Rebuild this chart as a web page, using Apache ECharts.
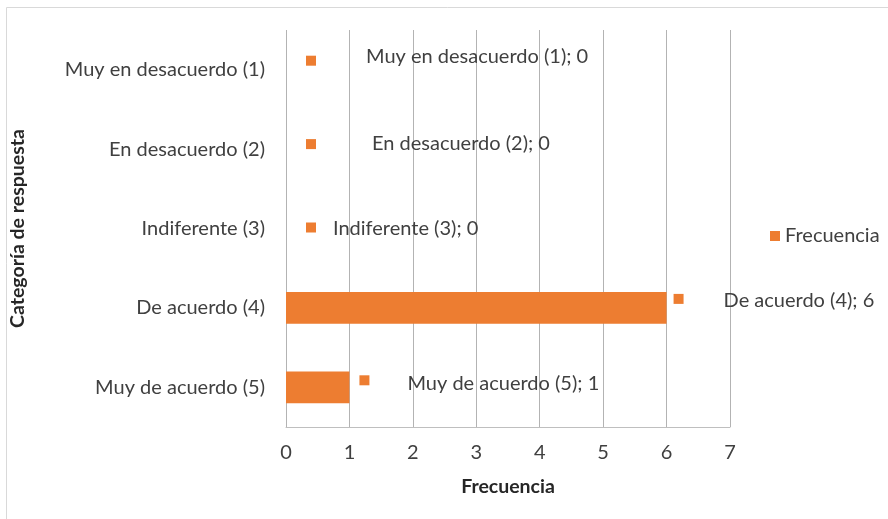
<!DOCTYPE html>
<html>
<head>
<meta charset="utf-8">
<script src="https://cdn.jsdelivr.net/npm/echarts@6/dist/echarts.min.js"></script>
<style>
  html, body { margin: 0; padding: 0; background: #ffffff; }
  #chart { width: 888px; height: 519px; }
</style>
</head>
<body>
<div id="chart"></div>
<script>
// Response categories, top to bottom
const categories = [
  'Muy en desacuerdo (1)',
  'En desacuerdo (2)',
  'Indiferente (3)',
  'De acuerdo (4)',
  'Muy de acuerdo (5)'
];
// Frequency per category
const frequencies = [0, 0, 0, 6, 1];
// Value axis ticks
const xTicks = [0, 1, 2, 3, 4, 5, 6, 7];

// Hand-placed data label offsets (text and legend key), in pixels
const textOffsets = [[75, -13], [81, -6], [42, 0], [52, -7], [53, -4]];
const keyOffsets = [[15, -9], [15, -5], [15, -1], [2, -9], [5, -7]];

const ORANGE = '#ed7d31';
const FONT = 'Lato';
const FS = 20;

const chart = echarts.init(document.getElementById('chart'));

const textData = frequencies.map((v, i) => ({
  value: v,
  label: { offset: textOffsets[i] }
}));
const keyData = frequencies.map((v, i) => ({
  value: v,
  label: { offset: keyOffsets[i] }
}));

chart.setOption({
  animation: false,
  textStyle: { fontFamily: FONT },
  graphic: [
    { type: 'line', shape: { x1: 6.5, y1: 7.5, x2: 888, y2: 7.5 }, style: { stroke: '#d9d9d9', lineWidth: 1 } },
    { type: 'line', shape: { x1: 6.5, y1: 7.5, x2: 6.5, y2: 519 }, style: { stroke: '#d9d9d9', lineWidth: 1 } }
  ],
  legend: {
    data: ['Frecuencia'],
    left: 770,
    top: 226,
    padding: 0,
    itemWidth: 10,
    itemHeight: 10,
    icon: 'rect',
    textStyle: { fontFamily: FONT, fontSize: FS, color: '#404040' }
  },
  grid: { left: 285, right: 158, top: 30, bottom: 92, containLabel: false },
  xAxis: {
    type: 'value',
    min: xTicks[0],
    max: xTicks[xTicks.length - 1],
    interval: 1,
    name: 'Frecuencia',
    nameLocation: 'middle',
    nameGap: 50,
    nameTextStyle: { fontFamily: FONT, fontSize: 19.5, fontWeight: 'bold', color: '#262626' },
    axisLine: { show: true, lineStyle: { color: '#bfbfbf', width: 1 } },
    axisTick: { show: false },
    axisLabel: { fontFamily: FONT, fontSize: FS, color: '#404040', margin: 16 },
    splitLine: { show: true, lineStyle: { color: '#b3b3b3', width: 1 } }
  },
  yAxis: {
    type: 'category',
    data: categories,
    inverse: true,
    name: 'Categoría de respuesta',
    nameLocation: 'middle',
    nameGap: 258,
    nameRotate: 90,
    nameTextStyle: { fontFamily: FONT, fontSize: 19.5, fontWeight: 'bold', color: '#262626' },
    axisLine: { show: false },
    axisTick: { show: false },
    axisLabel: { fontFamily: FONT, fontSize: FS, color: '#404040', margin: 21 },
    splitLine: { show: false }
  },
  series: [
    {
      name: 'Frecuencia',
      type: 'bar',
      data: textData,
      barCategoryGap: '60%',
      itemStyle: { color: ORANGE },
      label: {
        show: true,
        position: 'right',
        distance: 5,
        fontFamily: FONT,
        fontSize: FS,
        color: '#404040',
        formatter: p => p.name + '; ' + p.value
      },
      z: 2
    },
    {
      name: 'key',
      type: 'bar',
      data: keyData,
      barGap: '-100%',
      barCategoryGap: '60%',
      itemStyle: { color: 'rgba(0,0,0,0)' },
      silent: true,
      label: {
        show: true,
        position: 'right',
        distance: 5,
        formatter: '{k|}',
        rich: { k: { width: 10, height: 10, backgroundColor: ORANGE } }
      },
      z: 3
    }
  ]
});
</script>
</body>
</html>
